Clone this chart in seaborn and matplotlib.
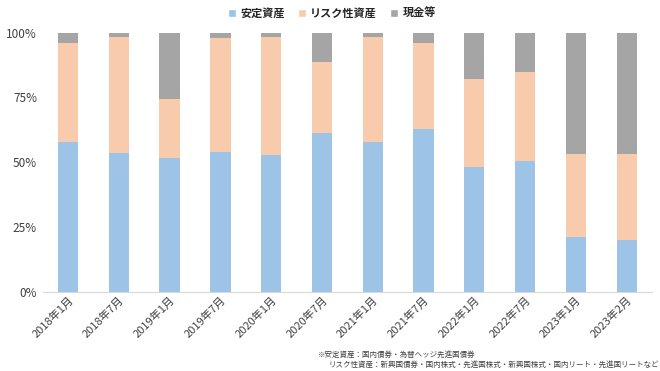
"""Stacked 100% bar chart of asset allocation over time."""

import matplotlib
matplotlib.use("Agg")
import matplotlib.pyplot as plt
import matplotlib.ticker as mticker
from matplotlib.patches import Patch
import pandas as pd
import seaborn as sns

periods = [
    "2018年1月", "2018年7月", "2019年1月", "2019年7月", "2020年1月", "2020年7月",
    "2021年1月", "2021年7月", "2022年1月", "2022年7月", "2023年1月", "2023年2月",
]
safe = [57.9, 53.4, 51.6, 53.8, 52.9, 61.4, 57.9, 62.7, 48.3, 50.5, 21.0, 20.1]
risk = [38.0, 44.8, 22.7, 44.3, 45.3, 27.4, 40.6, 33.2, 33.7, 34.4, 32.0, 33.2]
cash = [4.1, 1.8, 25.7, 1.9, 1.8, 11.2, 1.5, 4.1, 18.0, 15.1, 47.0, 46.7]

series_names = ["安定資産", "リスク性資産", "現金等"]
colors = ["#9DC3E6", "#F8CBAD", "#A5A5A5"]

sns.set_style("white")
plt.rcParams["font.family"] = ["Noto Sans CJK JP", "DejaVu Sans"]

df = pd.DataFrame({"period": periods, "safe": safe, "risk": risk, "cash": cash})
df["top_risk"] = df["safe"] + df["risk"]
df["top_cash"] = df["top_risk"] + df["cash"]

fig = plt.figure(figsize=(6.6, 3.71), dpi=100)
ax = fig.add_axes([0.0645, 0.214, 0.9235, 0.698])

# draw cumulative layers from the top down so each covers the one below
for col, color in zip(["top_cash", "top_risk", "safe"], colors[::-1]):
    sns.barplot(data=df, x="period", y=col, color=color, width=0.4,
                saturation=1, ax=ax, linewidth=0)

ax.set_ylim(0, 100)
ax.set_xlim(-0.5, len(periods) - 0.5)
ax.yaxis.set_major_locator(mticker.MultipleLocator(25))
ax.yaxis.set_major_formatter(mticker.PercentFormatter(decimals=0))
ax.set_xlabel("")
ax.set_ylabel("")
ax.tick_params(axis="y", labelsize=8.5, colors="#404040", length=0, pad=4)
ax.tick_params(axis="x", labelsize=8, colors="#404040", length=0, pad=2)
plt.setp(ax.get_xticklabels(), rotation=45, ha="right", rotation_mode="anchor")
for side in ["top", "left", "right"]:
    ax.spines[side].set_visible(False)
ax.spines["bottom"].set_color("#D9D9D9")

handles = [Patch(facecolor=c, label=n) for c, n in zip(colors, series_names)]
fig.legend(handles=handles, loc="center", bbox_to_anchor=(0.503, 0.963), ncol=3,
           frameon=False, handlelength=0.7, handleheight=0.7,
           columnspacing=1.2, handletextpad=0.4,
           prop={"weight": "bold", "size": 8})

fig.text(0.482, 0.038, "※安定資産：国内債券・為替ヘッジ先進国債券",
         fontsize=5.4, color="#404040")
fig.text(0.497, 0.01,
         "リスク性資産：新興国債券・国内株式・先進国株式・新興国株式・国内リート・先進国リートなど",
         fontsize=5.4, color="#404040")

fig.savefig("out.png", dpi=100)
